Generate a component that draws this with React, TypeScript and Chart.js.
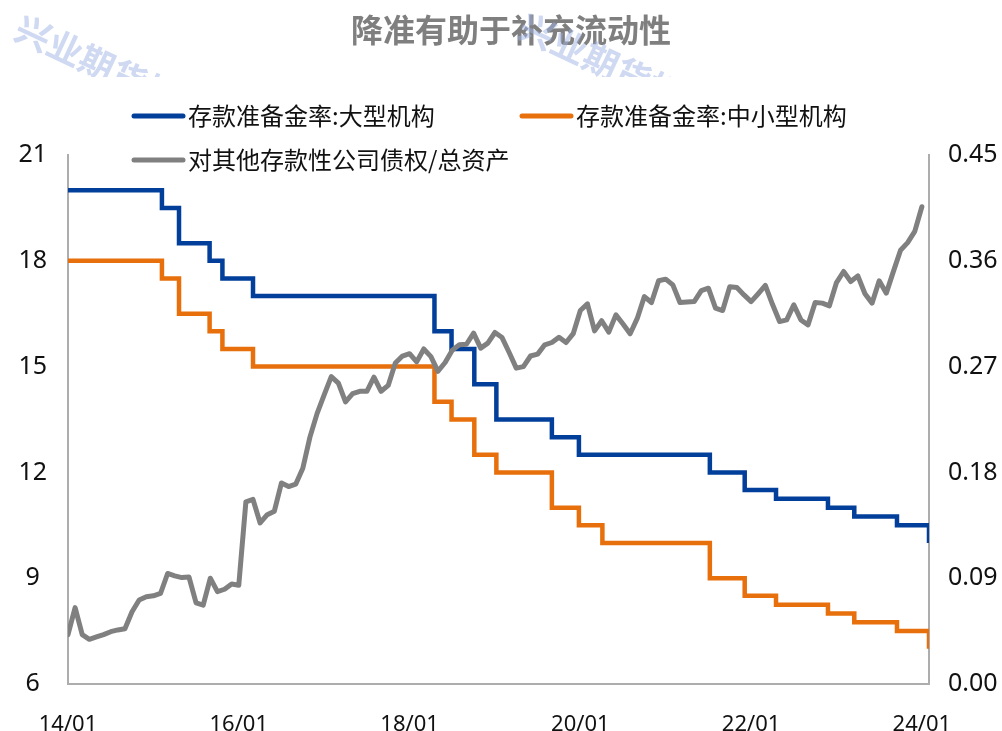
import { useEffect, useRef } from 'react';
import { Chart, registerables } from 'chart.js';

Chart.register(...registerables);

// ---------- data ----------
const chartTitle = '降准有助于补充流动性';
const watermarkText = '兴业期货投研';
const seriesNames = ['存款准备金率:大型机构', '存款准备金率:中小型机构', '对其他存款性公司债权/总资产'];

// months since 2014/01 at which each required-reserve level starts
const largeMonths = [0, 13.2, 15.6, 19.9, 21.7, 26.0, 51.5, 53.9, 57.1, 60.2, 68.0, 71.8, 90.2, 95.1, 99.5, 106.8, 110.5, 116.5, 121];
const largeRRR = [20, 19.5, 18.5, 18, 17.5, 17, 16, 15.5, 14.5, 13.5, 13, 12.5, 12, 11.5, 11.25, 11, 10.75, 10.5, 10];

const smallMonths = [0, 13.2, 15.6, 19.9, 21.7, 26.0, 51.5, 53.9, 57.1, 60.2, 68.0, 71.8, 75.1, 90.2, 95.1, 99.5, 106.8, 110.5, 116.5, 121];
const smallRRR = [18, 17.5, 16.5, 16, 15.5, 15, 14, 13.5, 12.5, 12, 11, 10.5, 10, 9, 8.5, 8.25, 8, 7.75, 7.5, 7];

// monthly ratio, 2014/01 .. 2024/01 (index = months since 2014/01)
const claimsRatio = [
  0.042, 0.065, 0.042, 0.038, 0.040, 0.042, 0.0445, 0.046, 0.047, 0.0615, 0.0715, 0.0743,
  0.075, 0.077, 0.094, 0.092, 0.0905, 0.091, 0.069, 0.067, 0.090, 0.0786, 0.0806, 0.085,
  0.084, 0.155, 0.157, 0.137, 0.144, 0.147, 0.171, 0.168, 0.170, 0.1835, 0.21, 0.230,
  0.246, 0.2615, 0.256, 0.240, 0.247, 0.249, 0.249, 0.261, 0.249, 0.254, 0.273, 0.279,
  0.281, 0.274, 0.285, 0.2785, 0.266, 0.2735, 0.284, 0.2885, 0.289, 0.2985, 0.2857, 0.290,
  0.299, 0.2947, 0.282, 0.2687, 0.270, 0.279, 0.2806, 0.2885, 0.2905, 0.295, 0.2905, 0.298,
  0.3177, 0.3234, 0.3004, 0.309, 0.2993, 0.314, 0.3063, 0.298, 0.311, 0.3296, 0.3245, 0.343,
  0.3444, 0.3395, 0.3245, 0.325, 0.3253, 0.3347, 0.3367, 0.3197, 0.3177, 0.338, 0.3372, 0.331,
  0.3253, 0.332, 0.339, 0.323, 0.3083, 0.3097, 0.3225, 0.3097, 0.3055, 0.3245, 0.324, 0.3217,
  0.3415, 0.3509, 0.3424, 0.3472, 0.332, 0.324, 0.343, 0.3325, 0.351, 0.369, 0.3755, 0.385,
  0.406,
];

const xTickMonths = [0, 24, 48, 72, 96, 120];
const leftTicks = [6, 9, 12, 15, 18, 21];
const rightTicks = [0, 0.09, 0.18, 0.27, 0.36, 0.45];

const BLUE = '#023F9A';
const ORANGE = '#E8700C';
const GRAY = '#808080';
const AXIS = '#ADADAD';
const X_TICK_FONT = { family: '"Noto Sans", "Open Sans", sans-serif', size: 22 };
const Y_TICK_FONT = { family: '"Noto Sans", "Open Sans", sans-serif', size: 25 };

const overlayPlugin = {
  id: 'overlay',
  afterDraw(chart: any) {
    const ctx = chart.ctx as CanvasRenderingContext2D;
    ctx.save();
    // title
    ctx.fillStyle = '#7F7F7F';
    ctx.font = 'bold 32px "Noto Sans CJK SC", sans-serif';
    ctx.textAlign = 'center';
    ctx.textBaseline = 'middle';
    ctx.fillText(chartTitle, 511, 30);

    // legend
    const items = [
      { x: 132, y: 116, color: BLUE, text: seriesNames[0] },
      { x: 520, y: 116, color: ORANGE, text: seriesNames[1] },
      { x: 132, y: 160, color: GRAY, text: seriesNames[2] },
    ];
    ctx.font = '24px "Noto Sans CJK SC", sans-serif';
    ctx.textAlign = 'left';
    for (const it of items) {
      ctx.strokeStyle = it.color;
      ctx.lineWidth = 5;
      ctx.lineCap = 'round';
      ctx.beginPath();
      ctx.moveTo(it.x + 2, it.y);
      ctx.lineTo(it.x + 51, it.y);
      ctx.stroke();
      ctx.fillStyle = '#111111';
      ctx.fillText(it.text, it.x + 56, it.y);
    }

    // watermark
    ctx.beginPath();
    ctx.rect(0, 0, chart.width, 77);
    ctx.clip();
    ctx.fillStyle = 'rgba(160, 180, 230, 0.5)';
    ctx.font = 'bold 35px "Noto Sans CJK SC", sans-serif';
    ctx.textBaseline = 'alphabetic';
    for (const [wx, wy] of [[12, 38], [516, 36]]) {
      ctx.save();
      ctx.translate(wx, wy);
      ctx.rotate((25 * Math.PI) / 180);
      ctx.fillText(watermarkText, 0, 0);
      ctx.restore();
    }
    ctx.restore();
  },
};

export default function App() {
  const ref = useRef<HTMLCanvasElement>(null);

  useEffect(() => {
    const canvas = ref.current;
    if (!canvas) return;
    const chart = new Chart(canvas, {
      type: 'line',
      data: {
        datasets: [
          {
            label: seriesNames[2],
            data: claimsRatio.map((v, i) => ({ x: i, y: v })),
            yAxisID: 'y1',
            borderColor: GRAY,
            borderWidth: 5,
            pointRadius: 0,
            tension: 0,
            borderJoinStyle: 'round',
            borderCapStyle: 'round',
            order: 0,
          },
          {
            label: seriesNames[0],
            data: largeMonths.map((m, i) => ({ x: m, y: largeRRR[i] })),
            yAxisID: 'y',
            borderColor: BLUE,
            borderWidth: 4.5,
            pointRadius: 0,
            stepped: 'before',
            order: 1,
          },
          {
            label: seriesNames[1],
            data: smallMonths.map((m, i) => ({ x: m, y: smallRRR[i] })),
            yAxisID: 'y',
            borderColor: ORANGE,
            borderWidth: 4.5,
            pointRadius: 0,
            stepped: 'before',
            order: 2,
          },
        ],
      },
      options: {
        responsive: false,
        animation: false,
        devicePixelRatio: 1,
        layout: { padding: { top: 155, left: 0, right: 0, bottom: 0 } },
        plugins: { legend: { display: false }, title: { display: false }, tooltip: { enabled: false } },
        scales: {
          x: {
            type: 'linear',
            min: 0,
            max: 121,
            grid: { display: false, drawTicks: false },
            border: { display: true, color: AXIS, width: 2 },
            afterBuildTicks: (s: any) => {
              s.ticks = xTickMonths.map((v) => ({ value: v }));
            },
            afterFit: (s: any) => {
              s.height = 47;
            },
            ticks: {
              font: X_TICK_FONT,
              color: '#111111',
              padding: 28,
              maxRotation: 0,
              callback: (v: any) => `${14 + Math.round(Number(v) / 12)}/01`,
            },
          },
          y: {
            type: 'linear',
            position: 'left',
            min: 6,
            max: 21,
            grid: { display: false, drawTicks: false },
            border: { display: true, color: AXIS, width: 2 },
            afterBuildTicks: (s: any) => {
              s.ticks = leftTicks.map((v) => ({ value: v }));
            },
            afterFit: (s: any) => {
              s.width = 68;
            },
            ticks: {
              font: Y_TICK_FONT,
              color: '#111111',
              padding: 21,
              crossAlign: 'center',
              callback: (v: any) => String(v),
            },
          },
          y1: {
            type: 'linear',
            position: 'right',
            min: 0,
            max: 0.45,
            grid: { display: false, drawTicks: false },
            border: { display: true, color: AXIS, width: 2 },
            afterBuildTicks: (s: any) => {
              s.ticks = rightTicks.map((v) => ({ value: v }));
            },
            afterFit: (s: any) => {
              s.width = 73;
            },
            ticks: {
              font: Y_TICK_FONT,
              color: '#111111',
              padding: 19,
              callback: (v: any) => Number(v).toFixed(2),
            },
          },
        },
      },
      plugins: [overlayPlugin],
    } as any);
    return () => chart.destroy();
  }, []);

  return (
    <canvas
      ref={ref}
      width={1002}
      height={731}
      style={{ position: 'absolute', left: 0, top: 0, display: 'block', width: 1002, height: 731 }}
    />
  );
}
